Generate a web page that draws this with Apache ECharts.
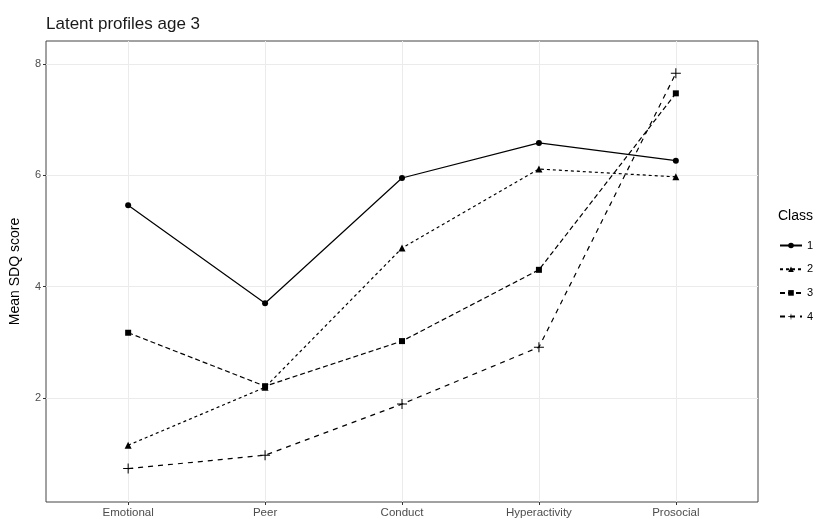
<!DOCTYPE html>
<html>
<head>
<meta charset="utf-8">
<script src="https://cdn.jsdelivr.net/npm/echarts@6/dist/echarts.min.js"></script>
<style>html,body{margin:0;padding:0;background:#fff}#c{width:824px;height:519px}</style>
</head>
<body>
<div id="c"></div>
<script>
var categories = ['Emotional', 'Peer', 'Conduct', 'Hyperactivity', 'Prosocial'];
var class1 = [5.46, 3.70, 5.95, 6.58, 6.26];
var class2 = [1.15, 2.19, 4.69, 6.11, 5.97];
var class3 = [3.17, 2.21, 3.02, 4.30, 7.47];
var class4 = [0.73, 0.97, 1.89, 2.91, 7.83];
var classNames = ['1', '2', '3', '4'];
var yTicks = [2, 4, 6, 8];

var FONT = 'Liberation Sans, Arial, sans-serif';
var plus = 'path://M4.5,0 H5.5 V4.5 H10 V5.5 H5.5 V10 H4.5 V5.5 H0 V4.5 H4.5 Z';
var styles = [
  {symbol: 'circle', size: 6, dash: 'solid'},
  {symbol: 'triangle', size: 7, dash: [3, 3]},
  {symbol: 'rect', size: 6, dash: [5, 3]},
  {symbol: plus, size: 10, dash: [5, 5]}
];
var allData = [class1, class2, class3, class4];

function toPairs(arr) { return arr.map(function (v, i) { return [i, v]; }); }

var series = allData.map(function (d, k) {
  return {
    name: classNames[k],
    type: 'line',
    data: toPairs(d),
    symbol: styles[k].symbol,
    symbolSize: styles[k].size,
    showSymbol: true,
    lineStyle: {color: '#000', width: 1.2, type: styles[k].dash},
    itemStyle: {color: '#000'},
    emphasis: {disabled: true},
    z: 3
  };
});

var chart = echarts.init(document.getElementById('c'));
chart.setOption({
  animation: false,
  backgroundColor: '#fff',
  title: {
    text: 'Latent profiles age 3',
    left: 41, top: 11,
    textStyle: {fontFamily: FONT, fontSize: 17, fontWeight: 'normal', color: '#1a1a1a'}
  },
  grid: {left: 43, right: 66, top: 41, bottom: 17, show: true, borderColor: '#444', borderWidth: 1, backgroundColor: 'transparent'},
  xAxis: {
    type: 'value',
    min: -0.6, max: 4.6,
    axisLine: {show: false, onZero: false},
    axisTick: {show: true, inside: false, length: 3, lineStyle: {color: '#333'}, customValues: [0, 1, 2, 3, 4]},
    axisLabel: {
      customValues: [0, 1, 2, 3, 4],
      formatter: function (v) { return categories[Math.round(v)]; },
      color: '#4d4d4d', fontFamily: FONT, fontSize: 11.5, margin: 5
    },
    splitLine: {show: true, lineStyle: {color: '#ebebeb', width: 1}}
  },
  yAxis: {
    type: 'value',
    min: 0.13, max: 8.41,
    name: 'Mean SDQ score',
    nameLocation: 'middle',
    nameGap: 24,
    nameTextStyle: {fontFamily: FONT, fontSize: 14, color: '#000'},
    axisLine: {show: false, onZero: false},
    axisTick: {show: true, inside: false, length: 3, lineStyle: {color: '#333'}, customValues: yTicks},
    axisLabel: {customValues: yTicks, color: '#4d4d4d', fontFamily: FONT, fontSize: 11, margin: 5},
    splitLine: {show: true, lineStyle: {color: '#ebebeb', width: 1}}
  },
  legend: {
    orient: 'vertical',
    left: 774, top: 235,
    itemWidth: 22, itemHeight: 7, itemGap: 12.7,
    data: classNames,
    textStyle: {fontFamily: FONT, fontSize: 11, color: '#000'}
  },
  graphic: [{
    type: 'text', left: 778, top: 209,
    style: {text: 'Class', fontFamily: FONT, fontSize: 14, fill: '#000'}
  }],
  series: series
});
</script>
</body>
</html>
